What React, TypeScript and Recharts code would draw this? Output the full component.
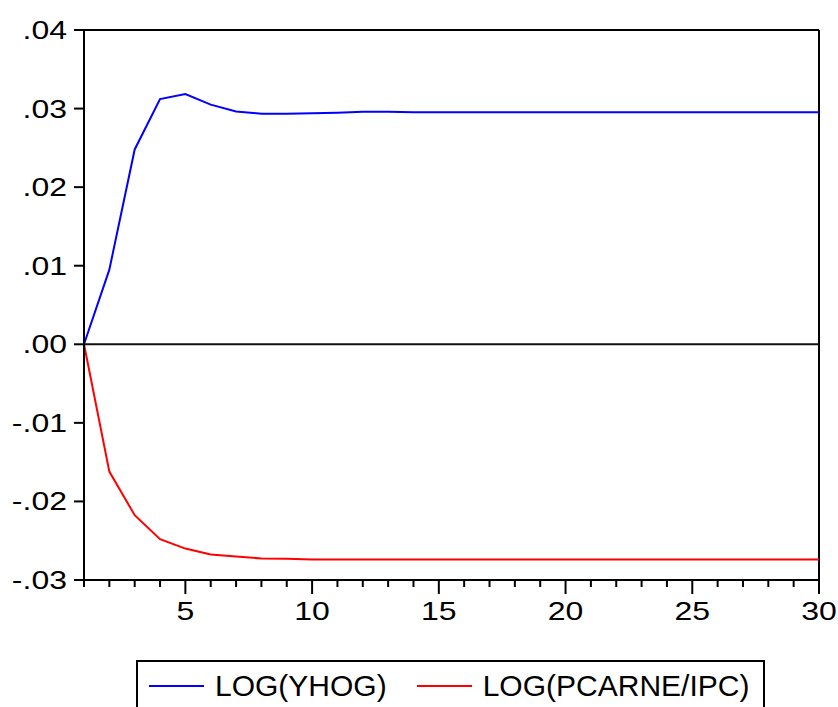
import React from 'react'
import { LineChart, Line, XAxis, YAxis, ReferenceLine, Legend } from 'recharts'

// impulse response horizon
const periods = [1, 2, 3, 4, 5, 6, 7, 8, 9, 10, 11, 12, 13, 14, 15, 16, 17, 18, 19, 20, 21, 22, 23, 24, 25, 26, 27, 28, 29, 30]

const yhog = [
  0, 0.0095, 0.0248, 0.0312, 0.03185, 0.0305, 0.02963, 0.02934, 0.02934, 0.0294,
  0.02948, 0.0296, 0.0296, 0.02952, 0.02952, 0.02952, 0.02952, 0.02952, 0.02952, 0.02952,
  0.02952, 0.02952, 0.02952, 0.02952, 0.02952, 0.02952, 0.02952, 0.02952, 0.02952, 0.02952,
]

const pcarne = [
  0, -0.0162, -0.02175, -0.0248, -0.026, -0.02675, -0.027, -0.02726, -0.02728, -0.02738,
  -0.02738, -0.02738, -0.02738, -0.02738, -0.02738, -0.02738, -0.02738, -0.02738, -0.02738, -0.02738,
  -0.02738, -0.02738, -0.02738, -0.02738, -0.02738, -0.02738, -0.02738, -0.02738, -0.02738, -0.02738,
]

const yTicks = [-0.03, -0.02, -0.01, 0, 0.01, 0.02, 0.03, 0.04]
const xLabelTicks = [5, 10, 15, 20, 25, 30]

const seriesNames = ['LOG(YHOG)', 'LOG(PCARNE/IPC)']

const data = periods.map((p, i) => ({ period: p, yhog: yhog[i], pcarne: pcarne[i] }))

const FONT = '"Liberation Sans", Arial, sans-serif'
const STRETCH = 1.28
const X_TICK_SIZE = 7
const X_TICK_MARGIN = 15

const fmtY = (v: number) => v.toFixed(2).replace('0.', '.')

function YTick({ x, y, payload }: any) {
  return (
    <text
      transform={`translate(${x},${y}) scale(${STRETCH},1)`}
      textAnchor="end"
      dy="0.36em"
      fontFamily={FONT}
      fontSize={25}
      fill="#000"
    >
      {fmtY(payload.value)}
    </text>
  )
}

function XTick({ x, y, payload }: any) {
  const v = payload.value
  const axisY = y - X_TICK_SIZE - X_TICK_MARGIN
  if (!xLabelTicks.includes(v)) return null
  return (
    <g>
      {/* longer tick for every 5th period */}
      <line x1={x} x2={x} y1={axisY + X_TICK_SIZE} y2={axisY + 14} stroke="#000" strokeWidth={2} />
      <text
        transform={`translate(${x},${y}) scale(${STRETCH},1)`}
        textAnchor="middle"
        dy="0.71em"
        fontFamily={FONT}
        fontSize={25}
        fill="#000"
      >
        {v}
      </text>
    </g>
  )
}

function LegendBox({ payload }: any) {
  const items = [...(payload || [])].sort(
    (a: any, b: any) => seriesNames.indexOf(a.value) - seriesNames.indexOf(b.value)
  )
  return (
    <div
      style={{
        border: '2px solid #000',
        height: 70,
        boxSizing: 'border-box',
        paddingTop: 7,
        paddingLeft: 11,
        display: 'flex',
        alignItems: 'flex-start',
        fontFamily: FONT,
        fontSize: 30,
        lineHeight: '34px',
        color: '#000',
        background: '#fff',
      }}
    >
      {items.map((entry: any, i: number) => (
        <div key={i} style={{ display: 'flex', alignItems: 'center', height: 34, marginRight: 30 }}>
          <span style={{ display: 'inline-block', width: 55, height: 2, background: entry.color, marginRight: 11 }} />
          <span>{entry.value}</span>
        </div>
      ))}
    </div>
  )
}

export default function App() {
  return (
    <div style={{ position: 'fixed', left: 0, top: 0, width: 838, height: 707, overflow: 'hidden', background: '#fff' }}>
      <LineChart width={838} height={707} data={data} margin={{ top: 30, right: 19, left: 0, bottom: 87 }}>
        <XAxis
          dataKey="period"
          type="number"
          domain={[1, 30]}
          ticks={periods}
          interval={0}
          height={40}
          stroke="#000"
          axisLine={{ stroke: '#000', strokeWidth: 2 }}
          tickLine={{ stroke: '#000', strokeWidth: 2 }}
          tickSize={X_TICK_SIZE}
          tickMargin={X_TICK_MARGIN}
          tick={<XTick />}
        />
        <YAxis
          type="number"
          domain={[-0.03, 0.04]}
          ticks={yTicks}
          interval={0}
          width={84}
          stroke="#000"
          axisLine={{ stroke: '#000', strokeWidth: 2 }}
          tickLine={{ stroke: '#000', strokeWidth: 2 }}
          tickSize={10}
          tickMargin={7}
          tick={<YTick />}
        />
        {/* frame top/right and zero line */}
        <ReferenceLine y={0.04} stroke="#000" strokeWidth={2} />
        <ReferenceLine x={30} stroke="#000" strokeWidth={2} />
        <ReferenceLine y={0} stroke="#111" strokeWidth={2} />
        <Line
          type="linear"
          dataKey="yhog"
          name={seriesNames[0]}
          stroke="#0000ff"
          strokeWidth={2}
          dot={false}
          isAnimationActive={false}
        />
        <Line
          type="linear"
          dataKey="pcarne"
          name={seriesNames[1]}
          stroke="#ff0000"
          strokeWidth={2}
          dot={false}
          isAnimationActive={false}
        />
        <Legend
          layout="horizontal"
          verticalAlign="middle"
          align="center"
          wrapperStyle={{ left: 136, top: 660, width: 629 }}
          content={<LegendBox />}
        />
      </LineChart>
    </div>
  )
}
